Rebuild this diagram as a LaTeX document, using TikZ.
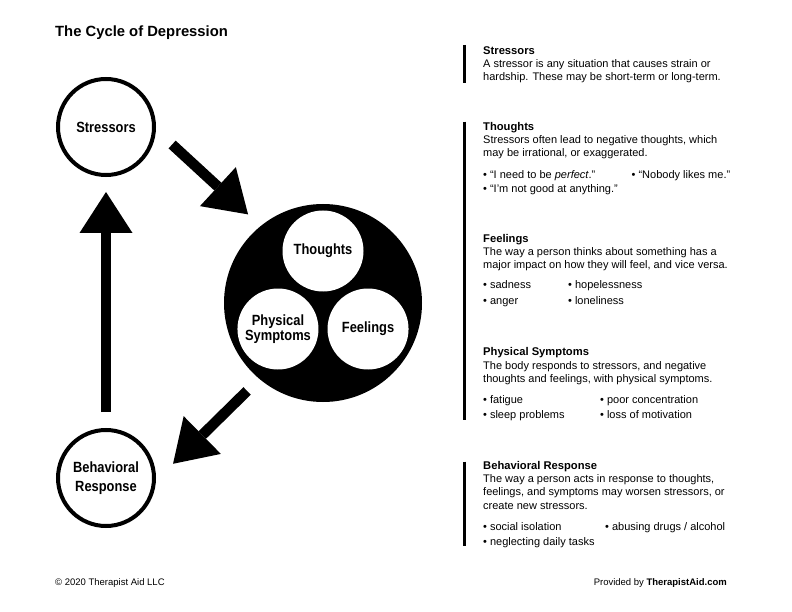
\documentclass[tikz,border=0pt]{standalone}
\usepackage{fontspec}
\setmainfont{Liberation Sans}
\newfontfamily\ringfont[FakeStretch=0.87]{Liberation Sans}
\usetikzlibrary{arrows.meta}
\newcommand\bul{\textbullet\hspace{3pt}}

\tikzset{
  ring/.style={circle, draw, line width=4pt, minimum size=96pt, inner sep=0pt,
    align=center, font=\ringfont\bfseries\fontsize{14.8}{16}\selectfont},
  part/.style={circle, fill=white, minimum size=81pt, inner sep=0pt,
    align=center, font=\ringfont\bfseries\fontsize{14.8}{16}\selectfont},
  bigarrow/.style={line width=10.5pt, -{Triangle[length=41pt,width=53pt,line width=0pt]}},
  info/.style={anchor=base west, inner sep=0pt, align=left, font=\fontsize{11}{13.3}\selectfont},
  item/.style={anchor=base west, inner sep=0pt, font=\fontsize{11}{13.3}\selectfont},
  bar/.style={line width=3pt}
}

\begin{document}
\begin{tikzpicture}[x=1pt,y=-1pt]
        \useasboundingbox (0,0) rectangle (792,612);

        % titulo
        \node[anchor=base west, inner sep=0pt, font=\bfseries\fontsize{14.8}{17}\selectfont] (title) at (55,36.3) {The Cycle of Depression};

        % circulos
        \node[ring] (stressors) at (106,127) {Stressors};
        \node[ring, font=\ringfont\bfseries\fontsize{14.8}{19}\selectfont] (behavioral) at (106,478) {Behavioral\\Response};
        \node[circle, fill=black, minimum size=198pt, inner sep=0pt] (cycle) at (323,303) {};
        \foreach \name/\ang/\txt in {thoughts/270/Thoughts, feelings/30/Feelings, physical/150/{Physical\\[-1pt]Symptoms}}
        \node[part] (\name) at ([shift={(\ang:52)}]cycle.center) {\txt};

        % flechas
        \draw[bigarrow, shorten <=22pt, shorten >=17pt] (stressors.-3) -- (cycle.129);
        \draw[bigarrow, shorten <=17pt, shorten >=24pt] (cycle.230) -- (behavioral.-3);
        \draw[bigarrow, shorten <=16pt, shorten >=15pt] (behavioral) -- (stressors);

        % barras
        \draw[bar] (464.7,45) -- (464.7,83);
        \draw[bar] (464.7,121.7) -- (464.7,420);
        \draw[bar] (464.7,461.7) -- (464.7,546);

        % textos (anclados en la ultima linea)
        \node[info] (stressors-txt) at (483,80.9) {{\fontsize{11.2}{13.3}\selectfont\bfseries Stressors}\\
            A stressor is any situation that causes strain or\\hardship. These may be short-term or long-term.};
        \node[info] (thoughts-txt) at (483,156.8) {{\fontsize{11.2}{13.3}\selectfont\bfseries Thoughts}\\
            Stressors often lead to negative thoughts, which\\may be irrational, or exaggerated.};
        \node[info] (feelings-txt) at (483,268.8) {{\fontsize{11.2}{13.3}\selectfont\bfseries Feelings}\\
            The way a person thinks about something has a\\major impact on how they will feel, and vice versa.};
        \node[info] (physical-txt) at (483,382.5) {{\fontsize{11.2}{13.3}\selectfont\bfseries Physical Symptoms}\\
            The body responds to stressors, and negative\\thoughts and feelings, with physical symptoms.};
        \node[info] (behavioral-txt) at (483,509) {{\fontsize{11.2}{13.3}\selectfont\bfseries Behavioral Response}\\
            The way a person acts in response to thoughts,\\feelings, and symptoms may worsen stressors, or\\create new stressors.};

        % vinetas
        \foreach \x/\y/\t [count=\i] in {
            483/178.3/{“I need to be \textit{perfect}.”}, 631.5/178.3/{“Nobody likes me.”},
            483/192.7/{“I’m not good at anything.”},
            483/288.3/sadness, 568/288.3/hopelessness, 483/304/anger, 568/304/loneliness,
            483/403.3/fatigue, 600/403.3/{poor concentration}, 483/418.3/{sleep problems}, 600/418.3/{loss of motivation},
            483/530/{social isolation}, 605/530/{abusing drugs / alcohol}, 483/545/{neglecting daily tasks}}
        \node[item] (item\i) at (\x,\y) {\bul\t};

        % pie
        \node[anchor=base west, inner sep=0pt, font=\fontsize{9.5}{11}\selectfont] (copyright) at (55,585) {© 2020 Therapist Aid LLC};
        \node[anchor=base east, inner sep=0pt, font=\fontsize{9.5}{11}\selectfont] (provided) at (727,585) {Provided by \textbf{TherapistAid.com}};
    \end{tikzpicture}
\end{document}
